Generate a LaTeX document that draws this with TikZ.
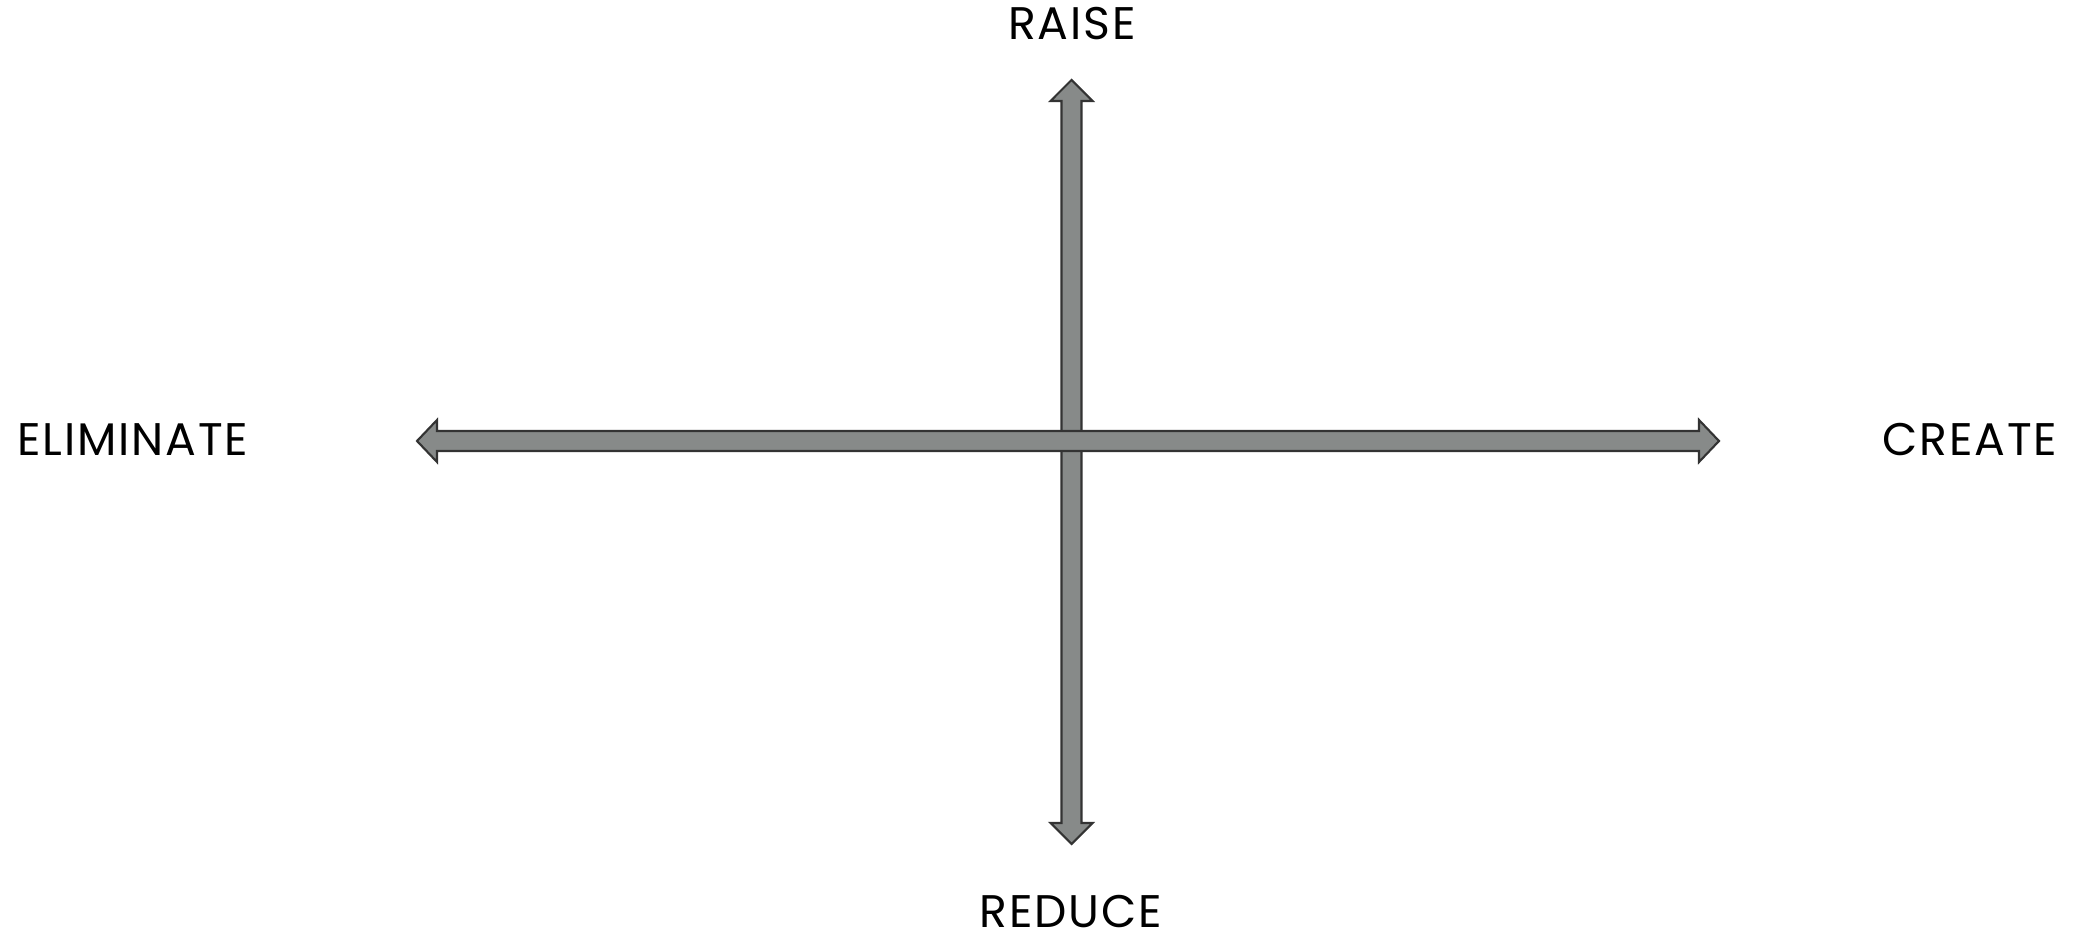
\documentclass[tikz,border=0pt]{standalone}
\usepackage{xcolor}
\usepackage{fontspec}
\newfontfamily\labelfont[LetterSpace=4]{Poppins}
\usepackage{tikz}
\usetikzlibrary{positioning}

\definecolor{axisgray}{HTML}{878A89}
\definecolor{axisline}{HTML}{333333}

\tikzset{
  axislabel/.style={font=\labelfont\fontsize{13}{15}\selectfont, text=black, inner sep=0pt},
  axisarrow/.style={fill=axisgray, draw=axisline, line width=0.6pt, line join=miter}
}

\begin{document}
\begin{tikzpicture}
    \useasboundingbox (0,0) rectangle (20.76,9.38);
    % vertical axis (raise / reduce)
    \draw[axisarrow] (10.715,8.58) -- (10.925,8.37) -- (10.815,8.37) -- (10.815,1.15)
      -- (10.925,1.15) -- (10.715,0.94) -- (10.505,1.15) -- (10.615,1.15)
      -- (10.615,8.37) -- (10.505,8.37) -- cycle;
    % horizontal axis (eliminate / create)
    \draw[axisarrow] (4.17,4.97) -- (4.37,5.18) -- (4.37,5.07) -- (16.99,5.07)
      -- (16.99,5.18) -- (17.19,4.97) -- (16.99,4.76) -- (16.99,4.87)
      -- (4.37,4.87) -- (4.37,4.76) -- cycle;
    \node[axislabel, anchor=base] (raise) at (10.72,8.985) {RAISE};
    \node[axislabel, anchor=base] (reduce) at (10.71,0.11) {REDUCE};
    \node[axislabel, anchor=base west] (eliminate) at (0.167,4.82) {ELIMINATE};
    \node[axislabel, anchor=base east] (create) at (20.58,4.82) {CREATE};
  \end{tikzpicture}
\end{document}
